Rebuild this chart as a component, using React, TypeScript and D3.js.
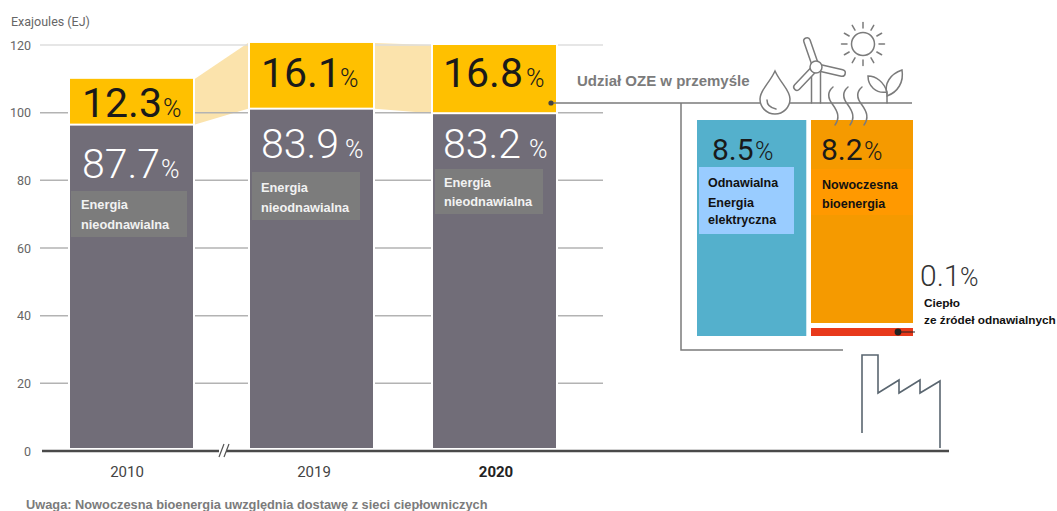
import * as d3 from "d3";

// Industrial final energy use, split into renewable and non-renewable shares
const years = ["2010", "2019", "2020"];
const totals = [110, 120.6, 120];
const renewableShare = [12.3, 16.1, 16.8];
const nonRenewableShare = [87.7, 83.9, 83.2];
const yTicks = [0, 20, 40, 60, 80, 100, 120];

const mixElectricity = 8.5;
const mixBioenergy = 8.2;
const mixHeat = 0.1;

const W = 1057;
const H = 511;
const SANS = "Roboto, 'Liberation Sans', sans-serif";
const LABEL = "'Liberation Sans', Arial, sans-serif";

const GREY = "#716d78";
const YELLOW = "#ffc000";
const BAND = "#fbe3ac";
const LINE = "#7b7b7b";

const y = d3.scaleLinear().domain([0, 120]).range([451, 45]);
const barX = d3.scaleOrdinal<string, number>().domain(years).range([70, 250, 433]);
const BAR_W = 123;
const BAR_BOTTOM = 448;

// 2020 renewable mix: column widths follow each share
const mixX = d3.scaleLinear().domain([0, mixElectricity + mixBioenergy + mixHeat]).range([697, 913]);
const MIX_TOP = 120;
const MIX_BOTTOM = 336;
const HEAT_H = 8;

const stack = years.map((year, i) => {
  const renewable = (totals[i] * renewableShare[i]) / 100;
  const rest = totals[i] - renewable;
  return { year, x: barX(year), top: y(totals[i]), split: y(rest) };
});

const yearLabelX = [127, 314, 496];
const shareOffsets = [
  { top: 117, bottom: 178, x: 82, px: 163, pb: 161 },
  { top: 87, bottom: 158, x: 261, px: 340, pb: 345 },
  { top: 87, bottom: 158, x: 443, px: 526, pb: 529 },
];
const captionBoxes = [
  { x: 71, y: 191, w: 116, h: 46, tx: 81, l1: 209, l2: 229 },
  { x: 252, y: 172, w: 108, h: 48, tx: 261, l1: 192, l2: 212 },
  { x: 435, y: 169, w: 108, h: 45, tx: 444, l1: 187, l2: 206 },
];

function Share({ x, base, value, fill, size, pctX, pctSize, weight = 400 }: any) {
  return (
    <g fill={fill} fontFamily={SANS}>
      <text x={x} y={base} fontSize={size} fontWeight={weight}>{value}</text>
      <text x={pctX} y={base} fontSize={pctSize} fontWeight={300}>%</text>
    </g>
  );
}

function Icons() {
  const sun = { x: 863, y: 44 };
  const rays = d3.range(12).map((i) => (i * Math.PI) / 6);
  const hub = { x: 816, y: 67 };
  const blades = [
    [807, 41],
    [842, 73],
    [797, 87],
  ];
  const wave = "C 826 93 829 100 833 105 C 838 112 840 118 835 125";
  return (
    <g fill="none" stroke={LINE} strokeWidth={1.5} strokeLinecap="round">
      {/* sun */}
      <circle cx={sun.x} cy={sun.y} r={11.5} />
      {rays.map((a) => (
        <line key={a} x1={sun.x + 16 * Math.cos(a)} y1={sun.y + 16 * Math.sin(a)}
          x2={sun.x + 21.5 * Math.cos(a)} y2={sun.y + 21.5 * Math.sin(a)} />
      ))}
      {/* wind turbine */}
      <path d="M811.5 72 V103 M820.5 72 V103" />
      {blades.map(([bx, by]) => (
        <g key={bx}>
          <line x1={hub.x} y1={hub.y} x2={bx} y2={by} strokeWidth={8} />
          <line x1={hub.x} y1={hub.y} x2={bx} y2={by} strokeWidth={5} stroke="#fff" />
        </g>
      ))}
      <circle cx={hub.x} cy={hub.y} r={6} fill="#fff" />
      {/* plant */}
      <path d="M887 103 V92 C 884 82 876 76 868 76 C 868 86 876 94 887 92" />
      <path d="M887 94 C 884 84 890 74 902 70 C 904 82 898 92 887 96" />
      {/* rising heat */}
      {[0, 15, 29].map((dx) => (
        <path key={dx} transform={`translate(${dx} 0)`} d={`M833 87 ${wave}`} />
      ))}
      {/* water drop */}
      <path fill="#fff" d="M775 71 C 769 84 760 90 760 99 A15 15 0 0 0 790 99 C 790 90 781 84 775 71 Z" />
      <path d="M767 100 C 767 105 771 108 776 109" />
    </g>
  );
}

export default function App() {
  const [b1, b2, b3] = stack;
  const bioRight = mixX.range()[1];
  const bioLeft = 811;
  return (
    <svg width={W} height={H} viewBox={`0 0 ${W} ${H}`}
      style={{ position: "absolute", left: 0, top: 0, display: "block", background: "#fff" }}>
      <text x={11} y={26} fontFamily={SANS} fontSize={12.5} fill="#666">Exajoules (EJ)</text>

      {/* links between the renewable segments */}
      <polygon fill={BAND} points={`${b1.x + BAR_W + 2},${b1.top} ${b2.x - 2},${b2.top} ${b2.x - 2},${b2.split} ${b1.x + BAR_W + 2},${b1.split}`} />
      <polygon fill={BAND} points={`${b2.x + BAR_W + 2},${b2.top} ${b3.x - 2},${b3.top} ${b3.x - 2},${b3.split} ${b2.x + BAR_W + 2},${b2.split}`} />

      {/* value axis */}
      {yTicks.map((t) => (
        <g key={t}>
          {t > 0 && (
            <line x1={40} x2={603} y1={y(t)} y2={y(t)} stroke={t === 120 ? "#dedede" : "#b3b3b3"} strokeWidth={1.5} />
          )}
          <text x={31} y={y(t) + 4.5} textAnchor="end" fontFamily={SANS} fontSize={12.5} fill="#666">{t}</text>
        </g>
      ))}

      {/* stacked bars */}
      {stack.map((b, i) => {
        const off = shareOffsets[i];
        const cap = captionBoxes[i];
        return (
          <g key={b.year}>
            <rect x={b.x - 2} y={b.top - 1} width={BAR_W + 4} height={BAR_BOTTOM - b.top + 1} fill="#fff" />
            <rect x={b.x} y={b.top} width={BAR_W} height={b.split - b.top - 1} fill={YELLOW} />
            <rect x={b.x} y={b.split + 1} width={BAR_W} height={BAR_BOTTOM - b.split - 1} fill={GREY} />
            <Share x={off.x} base={off.top} value={renewableShare[i].toFixed(1)} fill="#1a1a1a" size={41} pctX={off.px} pctSize={25} />
            <Share x={off.x} base={off.bottom} value={nonRenewableShare[i].toFixed(1)} fill="#fff" size={41} weight={300} pctX={off.pb} pctSize={25} />
            <rect x={cap.x} y={cap.y} width={cap.w} height={cap.h} fill="#7c7c7c" />
            <g fill="#f2f2f2" fontFamily={LABEL} fontWeight={700} fontSize={12.8}>
              <text x={cap.tx} y={cap.l1}>Energia</text>
              <text x={cap.tx} y={cap.l2}>nieodnawialna</text>
            </g>
            <text x={yearLabelX[i]} y={477} textAnchor="middle" fontFamily={SANS} fontSize={15}
              fontWeight={b.year === "2020" ? 700 : 400} fill={b.year === "2020" ? "#222" : "#444"}>{b.year}</text>
          </g>
        );
      })}

      {/* baseline with axis break */}
      <line x1={42} x2={949} y1={y(0)} y2={y(0)} stroke="#4a4a4a" strokeWidth={2.5} />
      <rect x={219} y={448} width={7} height={6} fill="#fff" />
      <path d="M219 457 L224 444 M224 457 L229 444" stroke="#555" strokeWidth={1.2} fill="none" />

      {/* renewable breakdown */}
      <text x={577} y={86} fontFamily={LABEL} fontWeight={700} fontSize={15} fill="#7b7b7b">Udział OZE w przemyśle</text>
      <path d="M551 103 H912 M681 103 V350 H843" fill="none" stroke={LINE} strokeWidth={1.5} />
      <circle cx={551} cy={103} r={2.6} fill="#444" />

      <rect x={mixX(0)} y={MIX_TOP} width={mixX(mixElectricity) - mixX(0)} height={MIX_BOTTOM - MIX_TOP} fill="#54b0cc" />
      <rect x={bioLeft} y={MIX_TOP} width={bioRight - bioLeft} height={MIX_BOTTOM - MIX_TOP - HEAT_H - 5} fill="#f59a00" />
      <rect x={bioLeft} y={MIX_BOTTOM - HEAT_H} width={bioRight - bioLeft} height={HEAT_H} fill="#e8391b" />
      <rect x={699} y={167} width={95} height={67} fill="#99ccff" />
      <rect x={811} y={169} width={102} height={46} fill="#ff9900" />

      <Icons />

      <Share x={712} base={160} value={mixElectricity.toFixed(1)} fill="#1a1a1a" size={30} pctX={755} pctSize={25} />
      <Share x={821} base={160} value={mixBioenergy.toFixed(1)} fill="#1a1a1a" size={30} pctX={864} pctSize={25} />
      <Share x={920} base={286} value={mixHeat.toFixed(1)} fill="#333" size={30} weight={300} pctX={960} pctSize={25} />

      <g fontFamily={LABEL} fontWeight={700} fontSize={12.5} fill="#111">
        <text x={708} y={187}>Odnawialna</text>
        <text x={708} y={207}>Energia</text>
        <text x={708} y={224}>elektryczna</text>
        <text x={822} y={189}>Nowoczesna</text>
        <text x={822} y={208}>bioenergia</text>
      </g>
      <g fontFamily={LABEL} fontWeight={700} fontSize={11.8} fill="#111">
        <text x={924} y={307}>Ciepło</text>
        <text x={924} y={324}>ze źródeł odnawialnych</text>
      </g>

      <circle cx={898} cy={332} r={3.4} fill="#222" />
      <line x1={898} x2={915} y1={332} y2={332} stroke="#222" strokeWidth={1} />

      {/* factory outline */}
      <path d="M862 433 V355 H878 V393 L899 380 V393 L920 380 V393 L940 381 V448" fill="none" stroke="#5a6670" strokeWidth={1.6} />

      <text x={26} y={509} fontFamily={LABEL} fontWeight={700} fontSize={12.8} fill="#7b7b7b">Uwaga: Nowoczesna bioenergia uwzględnia dostawę z sieci ciepłowniczych</text>
    </svg>
  );
}
